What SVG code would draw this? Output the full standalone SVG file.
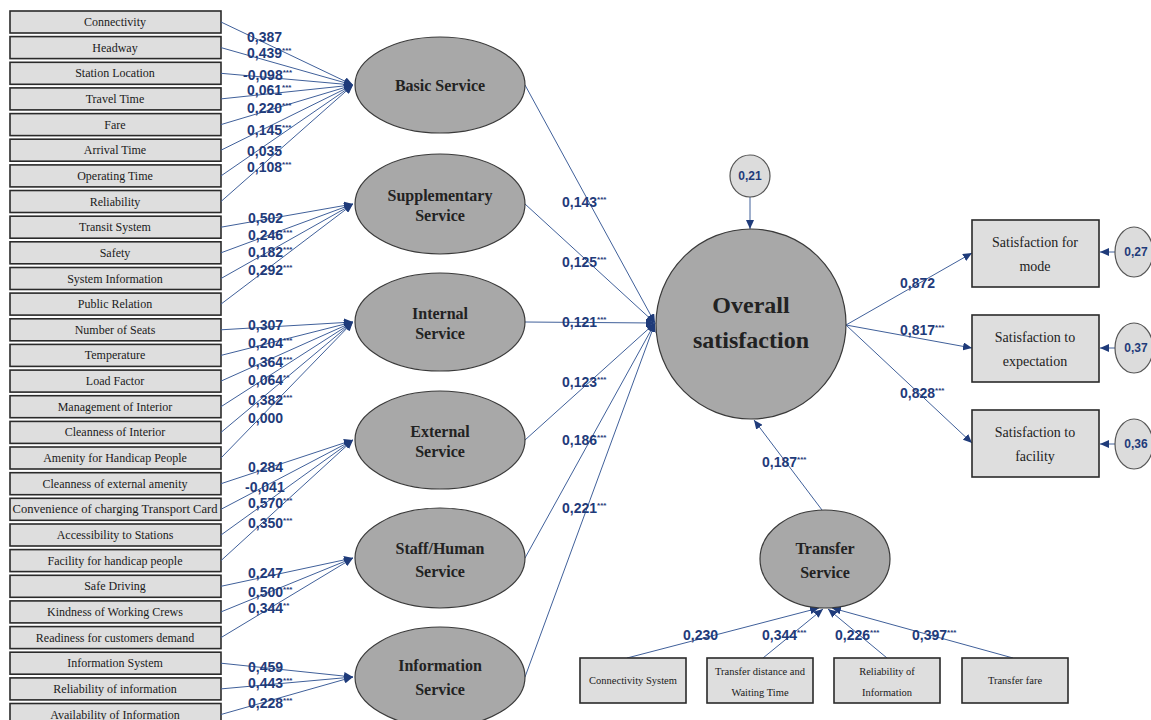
<svg xmlns="http://www.w3.org/2000/svg" width="1151" height="720" viewBox="0 0 1151 720">
<style>
.box{fill:#dedede;stroke:#2a2a2a;stroke-width:1.6}
.bt{font-family:"Liberation Serif",serif;font-size:12px;fill:#1a1a1a;text-anchor:middle}
.ell{fill:#a8a8a8;stroke:#3a3a3a;stroke-width:1.2}
.et{font-family:"Liberation Serif",serif;font-weight:bold;font-size:16px;fill:#222;text-anchor:middle}
.ln{stroke:#40609a;stroke-width:1;fill:none}
.la{stroke:#40609a;stroke-width:1;fill:none;marker-end:url(#ah)}
.lb{font-family:"Liberation Sans",Arial,sans-serif;font-weight:bold;font-size:14px;fill:#1f3b7a}
.s{font-size:8px}
.err{fill:#dcdcdc;stroke:#555;stroke-width:1.2}
.et2{font-family:"Liberation Sans",Arial,sans-serif;font-weight:bold;font-size:12px;fill:#1f3b7a;text-anchor:middle}
.rt{font-family:"Liberation Serif",serif;font-size:14px;fill:#222;text-anchor:middle}
.st{font-family:"Liberation Serif",serif;font-size:10.5px;fill:#1a1a1a;text-anchor:middle}
</style>
<defs>
<marker id="ah" markerUnits="userSpaceOnUse" markerWidth="10" markerHeight="8" refX="9" refY="4" orient="auto">
<path d="M0,0 L9,4 L0,8 z" fill="#1f3b7a"/>
</marker>
</defs>
<rect width="1151" height="720" fill="#ffffff"/>

<g id="indicators">
<g id="i0"><rect class="box" x="10" y="11" width="211" height="22"/><text class="bt" x="115" y="26">Connectivity</text></g>
<g id="i1"><rect class="box" x="10" y="36.6" width="211" height="22"/><text class="bt" x="115" y="51.6">Headway</text></g>
<g id="i2"><rect class="box" x="10" y="62.3" width="211" height="22"/><text class="bt" x="115" y="77.3">Station Location</text></g>
<g id="i3"><rect class="box" x="10" y="87.9" width="211" height="22"/><text class="bt" x="115" y="102.9">Travel Time</text></g>
<g id="i4"><rect class="box" x="10" y="113.6" width="211" height="22"/><text class="bt" x="115" y="128.6">Fare</text></g>
<g id="i5"><rect class="box" x="10" y="139.2" width="211" height="22"/><text class="bt" x="115" y="154.2">Arrival Time</text></g>
<g id="i6"><rect class="box" x="10" y="164.9" width="211" height="22"/><text class="bt" x="115" y="179.9">Operating Time</text></g>
<g id="i7"><rect class="box" x="10" y="190.5" width="211" height="22"/><text class="bt" x="115" y="205.5">Reliability</text></g>
<g id="i8"><rect class="box" x="10" y="216.2" width="211" height="22"/><text class="bt" x="115" y="231.2">Transit System</text></g>
<g id="i9"><rect class="box" x="10" y="241.8" width="211" height="22"/><text class="bt" x="115" y="256.8">Safety</text></g>
<g id="i10"><rect class="box" x="10" y="267.5" width="211" height="22"/><text class="bt" x="115" y="282.5">System Information</text></g>
<g id="i11"><rect class="box" x="10" y="293.1" width="211" height="22"/><text class="bt" x="115" y="308.1">Public Relation</text></g>
<g id="i12"><rect class="box" x="10" y="318.8" width="211" height="22"/><text class="bt" x="115" y="333.8">Number of Seats</text></g>
<g id="i13"><rect class="box" x="10" y="344.4" width="211" height="22"/><text class="bt" x="115" y="359.4">Temperature</text></g>
<g id="i14"><rect class="box" x="10" y="370.1" width="211" height="22"/><text class="bt" x="115" y="385.1">Load Factor</text></g>
<g id="i15"><rect class="box" x="10" y="395.7" width="211" height="22"/><text class="bt" x="115" y="410.7">Management of Interior</text></g>
<g id="i16"><rect class="box" x="10" y="421.4" width="211" height="22"/><text class="bt" x="115" y="436.4">Cleanness of Interior</text></g>
<g id="i17"><rect class="box" x="10" y="447" width="211" height="22"/><text class="bt" x="115" y="462">Amenity for Handicap People</text></g>
<g id="i18"><rect class="box" x="10" y="472.7" width="211" height="22"/><text class="bt" x="115" y="487.7">Cleanness of external amenity</text></g>
<g id="i19"><rect class="box" x="10" y="498.3" width="211" height="22"/><text class="bt" x="115" y="513.3" textLength="205" lengthAdjust="spacingAndGlyphs">Convenience of charging Transport Card</text></g>
<g id="i20"><rect class="box" x="10" y="524" width="211" height="22"/><text class="bt" x="115" y="539">Accessibility to Stations</text></g>
<g id="i21"><rect class="box" x="10" y="549.6" width="211" height="22"/><text class="bt" x="115" y="564.6">Facility for handicap people</text></g>
<g id="i22"><rect class="box" x="10" y="575.3" width="211" height="22"/><text class="bt" x="115" y="590.3">Safe Driving</text></g>
<g id="i23"><rect class="box" x="10" y="600.9" width="211" height="22"/><text class="bt" x="115" y="615.9">Kindness of Working Crews</text></g>
<g id="i24"><rect class="box" x="10" y="626.6" width="211" height="22"/><text class="bt" x="115" y="641.6">Readiness for customers demand</text></g>
<g id="i25"><rect class="box" x="10" y="652.2" width="211" height="22"/><text class="bt" x="115" y="667.2">Information System</text></g>
<g id="i26"><rect class="box" x="10" y="677.9" width="211" height="22"/><text class="bt" x="115" y="692.9">Reliability of information</text></g>
<g id="i27"><rect class="box" x="10" y="703.5" width="211" height="22"/><text class="bt" x="115" y="718.5">Availability of Information</text></g>
</g>

<g id="connectors">
<!-- Basic -->
<line class="la" x1="221" y1="22" x2="353" y2="85"/>
<line class="la" x1="221" y1="47.6" x2="353" y2="85"/>
<line class="la" x1="221" y1="73.3" x2="353" y2="85"/>
<line class="la" x1="221" y1="98.9" x2="353" y2="85"/>
<line class="la" x1="221" y1="124.6" x2="353" y2="85"/>
<line class="la" x1="221" y1="150.2" x2="353" y2="85"/>
<line class="la" x1="221" y1="175.9" x2="353" y2="85"/>
<line class="la" x1="221" y1="201.5" x2="353" y2="85"/>
<!-- Supplementary -->
<line class="la" x1="221" y1="227.2" x2="353" y2="204"/>
<line class="la" x1="221" y1="252.8" x2="353" y2="204"/>
<line class="la" x1="221" y1="278.5" x2="353" y2="204"/>
<line class="la" x1="221" y1="304.1" x2="353" y2="204"/>
<!-- Internal -->
<line class="la" x1="221" y1="329.8" x2="353" y2="322"/>
<line class="la" x1="221" y1="355.4" x2="353" y2="322"/>
<line class="la" x1="221" y1="381.1" x2="353" y2="322"/>
<line class="la" x1="221" y1="406.7" x2="353" y2="322"/>
<line class="la" x1="221" y1="432.4" x2="353" y2="322"/>
<line class="la" x1="221" y1="458" x2="353" y2="322"/>
<!-- External -->
<line class="la" x1="221" y1="483.7" x2="353" y2="440"/>
<line class="la" x1="221" y1="509.3" x2="353" y2="440"/>
<line class="la" x1="221" y1="535" x2="353" y2="440"/>
<line class="la" x1="221" y1="560.6" x2="353" y2="440"/>
<!-- Staff -->
<line class="la" x1="221" y1="586.3" x2="353" y2="558"/>
<line class="la" x1="221" y1="611.9" x2="353" y2="558"/>
<line class="la" x1="221" y1="637.6" x2="353" y2="558"/>
<!-- Information -->
<line class="la" x1="221" y1="663.2" x2="353" y2="677"/>
<line class="la" x1="221" y1="688.9" x2="353" y2="677"/>
<line class="la" x1="221" y1="714.5" x2="353" y2="677"/>
<!-- services to overall -->
<line class="la" x1="525" y1="85" x2="655" y2="323"/>
<line class="la" x1="525" y1="204" x2="655" y2="323"/>
<line class="la" x1="525" y1="322" x2="655" y2="323"/>
<line class="la" x1="525" y1="440" x2="655" y2="323"/>
<line class="la" x1="525" y1="558" x2="655" y2="323"/>
<line class="la" x1="525" y1="677" x2="655" y2="323"/>
<!-- error to overall -->
<line class="la" x1="750" y1="197" x2="750" y2="229"/>
<!-- overall to outcomes -->
<line class="la" x1="846" y1="325" x2="972" y2="253"/>
<line class="la" x1="846" y1="325" x2="972" y2="348"/>
<line class="la" x1="846" y1="325" x2="972" y2="443"/>
<!-- errors to outcomes -->
<line class="la" x1="1115" y1="252" x2="1100" y2="252"/>
<line class="la" x1="1115" y1="348" x2="1100" y2="348"/>
<line class="la" x1="1115" y1="444" x2="1100" y2="444"/>
<!-- transfer to overall -->
<line class="la" x1="822" y1="510" x2="754" y2="420"/>
<!-- transfer indicators -->
<line class="la" x1="627" y1="658" x2="819" y2="608"/>
<line class="la" x1="763" y1="658" x2="823" y2="609"/>
<line class="la" x1="887" y1="658" x2="828" y2="609"/>
<line class="la" x1="1013" y1="658" x2="832" y2="608"/>
</g>

<g id="labels">
<text class="lb" x="247" y="42">0,387</text>
<text class="lb" x="247" y="58">0,439<tspan class="s" dy="-5">***</tspan></text>
<text class="lb" x="243" y="80">-0,098<tspan class="s" dy="-5">***</tspan></text>
<text class="lb" x="247" y="95">0,061<tspan class="s" dy="-5">***</tspan></text>
<text class="lb" x="247" y="113">0,220<tspan class="s" dy="-5">***</tspan></text>
<text class="lb" x="247" y="135">0,145<tspan class="s" dy="-5">***</tspan></text>
<text class="lb" x="247" y="156">0,035</text>
<text class="lb" x="247" y="172">0,108<tspan class="s" dy="-5">***</tspan></text>

<text class="lb" x="248" y="223">0,502</text>
<text class="lb" x="248" y="240">0,246<tspan class="s" dy="-5">***</tspan></text>
<text class="lb" x="248" y="257">0,182<tspan class="s" dy="-5">***</tspan></text>
<text class="lb" x="248" y="275">0,292<tspan class="s" dy="-5">***</tspan></text>

<text class="lb" x="248" y="330">0,307</text>
<text class="lb" x="248" y="348">0,204<tspan class="s" dy="-5">***</tspan></text>
<text class="lb" x="248" y="367">0,364<tspan class="s" dy="-5">***</tspan></text>
<text class="lb" x="248" y="385">0,064<tspan class="s" dy="-5">**</tspan></text>
<text class="lb" x="248" y="405">0,382<tspan class="s" dy="-5">***</tspan></text>
<text class="lb" x="248" y="423">0,000</text>

<text class="lb" x="248" y="472">0,284</text>
<text class="lb" x="245" y="492">-0,041</text>
<text class="lb" x="248" y="508">0,570<tspan class="s" dy="-5">***</tspan></text>
<text class="lb" x="248" y="528">0,350<tspan class="s" dy="-5">***</tspan></text>

<text class="lb" x="248" y="578">0,247</text>
<text class="lb" x="248" y="597">0,500<tspan class="s" dy="-5">***</tspan></text>
<text class="lb" x="248" y="613">0,344<tspan class="s" dy="-5">**</tspan></text>

<text class="lb" x="248" y="672">0,459</text>
<text class="lb" x="248" y="688">0,443<tspan class="s" dy="-5">***</tspan></text>
<text class="lb" x="248" y="708">0,228<tspan class="s" dy="-5">***</tspan></text>

<text class="lb" x="562" y="207">0,143<tspan class="s" dy="-5">***</tspan></text>
<text class="lb" x="562" y="267">0,125<tspan class="s" dy="-5">***</tspan></text>
<text class="lb" x="562" y="327">0,121<tspan class="s" dy="-5">***</tspan></text>
<text class="lb" x="562" y="387">0,123<tspan class="s" dy="-5">***</tspan></text>
<text class="lb" x="562" y="445">0,186<tspan class="s" dy="-5">***</tspan></text>
<text class="lb" x="562" y="513">0,221<tspan class="s" dy="-5">***</tspan></text>

<text class="lb" x="900" y="288">0,872</text>
<text class="lb" x="900" y="335">0,817<tspan class="s" dy="-5">***</tspan></text>
<text class="lb" x="900" y="398">0,828<tspan class="s" dy="-5">***</tspan></text>

<text class="lb" x="762" y="467">0,187<tspan class="s" dy="-5">***</tspan></text>

<text class="lb" x="683" y="640">0,230</text>
<text class="lb" x="762" y="640">0,344<tspan class="s" dy="-5">***</tspan></text>
<text class="lb" x="835" y="640">0,226<tspan class="s" dy="-5">***</tspan></text>
<text class="lb" x="912" y="640">0,397<tspan class="s" dy="-5">***</tspan></text>
</g>

<g id="basic"><ellipse class="ell" cx="440" cy="85" rx="85" ry="48"/><text class="et" x="440" y="91">Basic Service</text></g>
<g id="supplementary"><ellipse class="ell" cx="440" cy="204" rx="85" ry="50"/><text class="et" x="440" y="201">Supplementary</text><text class="et" x="440" y="221">Service</text></g>
<g id="internal"><ellipse class="ell" cx="440" cy="322" rx="85" ry="49"/><text class="et" x="440" y="319">Internal</text><text class="et" x="440" y="339">Service</text></g>
<g id="external"><ellipse class="ell" cx="440" cy="440" rx="85" ry="49"/><text class="et" x="440" y="437">External</text><text class="et" x="440" y="457">Service</text></g>
<g id="staff"><ellipse class="ell" cx="440" cy="558" rx="85" ry="50"/><text class="et" x="440" y="554">Staff/Human</text><text class="et" x="440" y="577">Service</text></g>
<g id="information"><ellipse class="ell" cx="440" cy="677" rx="85" ry="50"/><text class="et" x="440" y="671">Information</text><text class="et" x="440" y="695">Service</text></g>

<g id="overall"><circle class="ell" cx="751" cy="324" r="95"/><text class="et" x="751" y="313" style="font-size:24px">Overall</text><text class="et" x="751" y="348" style="font-size:24px">satisfaction</text></g>
<g id="err-overall"><ellipse class="err" cx="750" cy="176" rx="20" ry="21"/><text class="et2" x="750" y="180">0,21</text></g>

<g id="mode"><rect class="box" x="972" y="220" width="127" height="67"/><text class="rt" x="1035" y="247">Satisfaction for</text><text class="rt" x="1035" y="271">mode</text></g>
<g id="expectation"><rect class="box" x="972" y="315" width="127" height="67"/><text class="rt" x="1035" y="342">Satisfaction to</text><text class="rt" x="1035" y="366">expectation</text></g>
<g id="facility"><rect class="box" x="972" y="410" width="127" height="67"/><text class="rt" x="1035" y="437">Satisfaction to</text><text class="rt" x="1035" y="461">facility</text></g>

<g id="err-mode"><ellipse class="err" cx="1134" cy="252" rx="19" ry="25"/><text class="et2" x="1136" y="256">0,27</text></g>
<g id="err-expectation"><ellipse class="err" cx="1134" cy="348" rx="19" ry="25"/><text class="et2" x="1136" y="352">0,37</text></g>
<g id="err-facility"><ellipse class="err" cx="1134" cy="444" rx="19" ry="25"/><text class="et2" x="1136" y="448">0,36</text></g>

<g id="transfer"><ellipse class="ell" cx="825" cy="559" rx="65" ry="49"/><text class="et" x="825" y="554">Transfer</text><text class="et" x="825" y="578">Service</text></g>

<g id="t-connectivity"><rect class="box" x="580" y="658" width="106" height="45"/><text class="st" x="633" y="684">Connectivity System</text></g>
<g id="t-distance"><rect class="box" x="707" y="658" width="106" height="45"/><text class="st" x="760" y="675">Transfer distance and</text><text class="st" x="760" y="696">Waiting Time</text></g>
<g id="t-reliability"><rect class="box" x="834" y="658" width="106" height="45"/><text class="st" x="887" y="675">Reliability of</text><text class="st" x="887" y="696">Information</text></g>
<g id="t-fare"><rect class="box" x="962" y="658" width="106" height="45"/><text class="st" x="1015" y="684">Transfer fare</text></g>
</svg>
